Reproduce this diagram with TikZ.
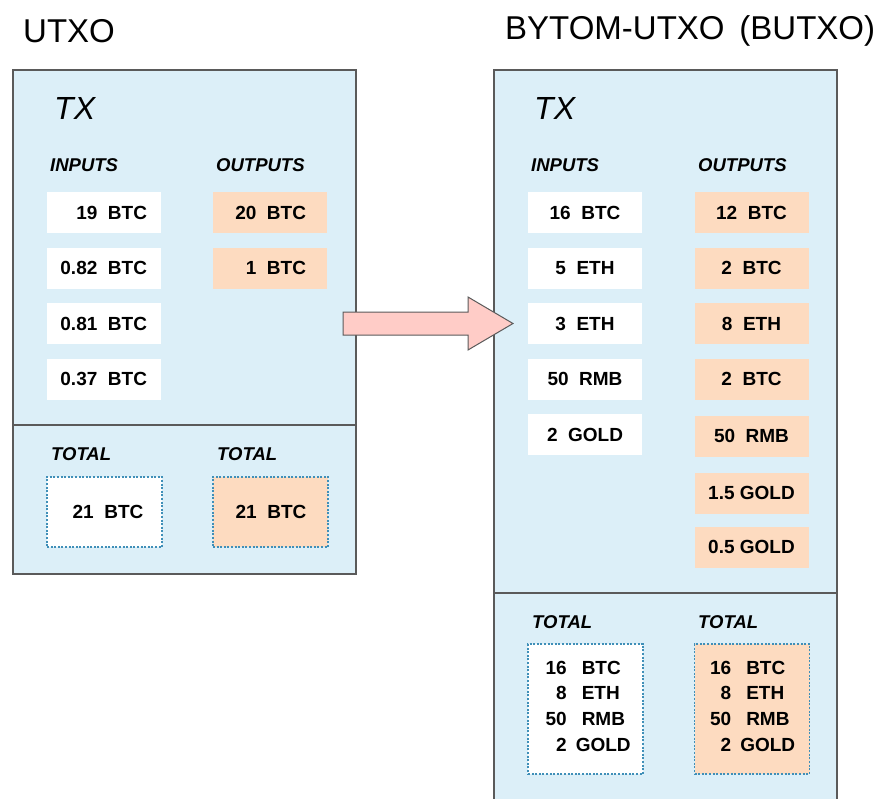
\documentclass[tikz,border=0pt]{standalone}
\usepackage{fontspec}
\setmainfont{Liberation Sans}
\definecolor{panel}{HTML}{DCEFF8}
\definecolor{peach}{HTML}{FDDBC0}
\definecolor{arrowpink}{HTML}{FFCCC7}
\definecolor{framegray}{HTML}{5A5A5A}
\definecolor{dotblue}{HTML}{3F8FB8}
\begin{document}
\begin{tikzpicture}[x=1pt,y=-1pt,
  panelbox/.style={draw=framegray, line width=1.5pt, fill=panel},
  divider/.style={draw=framegray, line width=1.5pt},
  inbox/.style={fill=white, minimum width=114pt, minimum height=41pt, inner sep=0pt},
  outbox/.style={fill=peach, minimum width=114pt, minimum height=41pt, inner sep=0pt},
  totbox/.style={draw=dotblue, line width=1.1pt, dash pattern=on 2pt off 1.6pt, minimum width=115pt, inner sep=0pt},
  val/.style={font=\fontsize{19}{22}\selectfont\bfseries, inner sep=0pt},
  lbl/.style={font=\fontsize{18.5}{21}\selectfont\bfseries\itshape, inner sep=0pt, anchor=west},
  txlbl/.style={font=\fontsize{32}{36}\selectfont\itshape, inner sep=0pt, anchor=west},
  title/.style={font=\fontsize{33}{38}\selectfont, inner sep=0pt, anchor=west},
  blockarrow/.style={draw=framegray, line width=1pt, fill=arrowpink, line join=miter}
]
\useasboundingbox (0,0) rectangle (883,798);
\clip (0,0) rectangle (883,798);

% titles
\node[title] (t1) at (23,31) {UTXO};
\node[title] (t2) at (505,31) {BYTOM-UTXO\hspace{0.45em}(BUTXO)};

% left panel
\draw[panelbox] (13,70) rectangle (356,574);
\draw[divider] (13,425) -- (356,425);
\node[txlbl] (ltx) at (54,108) {TX};
\node[lbl] (lin) at (50,165) {INPUTS};
\node[lbl] (lout) at (216,165) {OUTPUTS};
\node[inbox] (li1) at (104,212.5) {};
\node[inbox] (li2) at (104,268) {};
\node[inbox] (li3) at (104,323.5) {};
\node[inbox] (li4) at (104,379) {};
\node[val, anchor=east] at ([xshift=-14pt]li1.east) {19\ \ BTC};
\node[val, anchor=east] at ([xshift=-14pt]li2.east) {0.82\ \ BTC};
\node[val, anchor=east] at ([xshift=-14pt]li3.east) {0.81\ \ BTC};
\node[val, anchor=east] at ([xshift=-14pt]li4.east) {0.37\ \ BTC};
\node[outbox] (lo1) at (270,212.5) {};
\node[outbox] (lo2) at (270,268) {};
\node[val, anchor=east] at ([xshift=-21pt]lo1.east) {20\ \ BTC};
\node[val, anchor=east] at ([xshift=-21pt]lo2.east) {1\ \ BTC};
\node[lbl] (ltot1) at (51,454) {TOTAL};
\node[lbl] (ltot2) at (217,454) {TOTAL};
\node[totbox, fill=white, minimum height=70pt] (lt1) at (104.5,512) {};
\node[totbox, fill=peach, minimum height=70pt] (lt2) at (270.5,512) {};
\node[val, anchor=east] at ([xshift=-19pt]lt1.east) {21\ \ BTC};
\node[val, anchor=east] at ([xshift=-22pt]lt2.east) {21\ \ BTC};

% right panel
\draw[panelbox] (494,70) rectangle (837,815);
\draw[divider] (494,593) -- (837,593);
\node[txlbl] (rtx) at (534,108) {TX};
\node[lbl] (rin) at (531,165) {INPUTS};
\node[lbl] (rout) at (698,165) {OUTPUTS};
\node[inbox, val] (ri1) at (585,212.5) {16\ \ BTC};
\node[inbox, val] (ri2) at (585,268) {5\ \ ETH};
\node[inbox, val] (ri3) at (585,323.5) {3\ \ ETH};
\node[inbox, val] (ri4) at (585,379) {50\ \ RMB};
\node[inbox, val] (ri5) at (585,434.5) {2\ \ GOLD};
\node[outbox, val] (ro1) at (751.5,212.5) {12\ \ BTC};
\node[outbox, val] (ro2) at (751.5,268) {2\ \ BTC};
\node[outbox, val] (ro3) at (751.5,323.5) {8\ \ ETH};
\node[outbox, val] (ro4) at (751.5,379) {2\ \ BTC};
\node[outbox, val] (ro5) at (751.5,436) {50\ \ RMB};
\node[outbox, val] (ro6) at (751.5,493) {1.5 GOLD};
\node[outbox, val] (ro7) at (751.5,547) {0.5 GOLD};
\node[lbl] (rtot1) at (532,622) {TOTAL};
\node[lbl] (rtot2) at (698,622) {TOTAL};
\node[totbox, fill=white, minimum height=130pt] (rt1) at (585.5,709) {};
\node[totbox, fill=peach, minimum height=130pt] (rt2) at (752,709) {};
\node[val, anchor=west] at ([xshift=18pt,yshift=1.5pt]rt1.west) {\fontsize{19}{25.7}\selectfont\begin{tabular}{@{}r@{\hspace{15pt}}l@{}}16&BTC\\8&ETH\\50&RMB\\2&\hspace{-6pt}GOLD\end{tabular}};
\node[val, anchor=west] at ([xshift=16pt,yshift=1.5pt]rt2.west) {\fontsize{19}{25.7}\selectfont\begin{tabular}{@{}r@{\hspace{15pt}}l@{}}16&BTC\\8&ETH\\50&RMB\\2&\hspace{-6pt}GOLD\end{tabular}};

% block arrow
\draw[blockarrow] (343,312) -- (468,312) -- (468,297) -- (513,323.5) -- (468,350) -- (468,335) -- (343,335) -- cycle;
\end{tikzpicture}
\end{document}
